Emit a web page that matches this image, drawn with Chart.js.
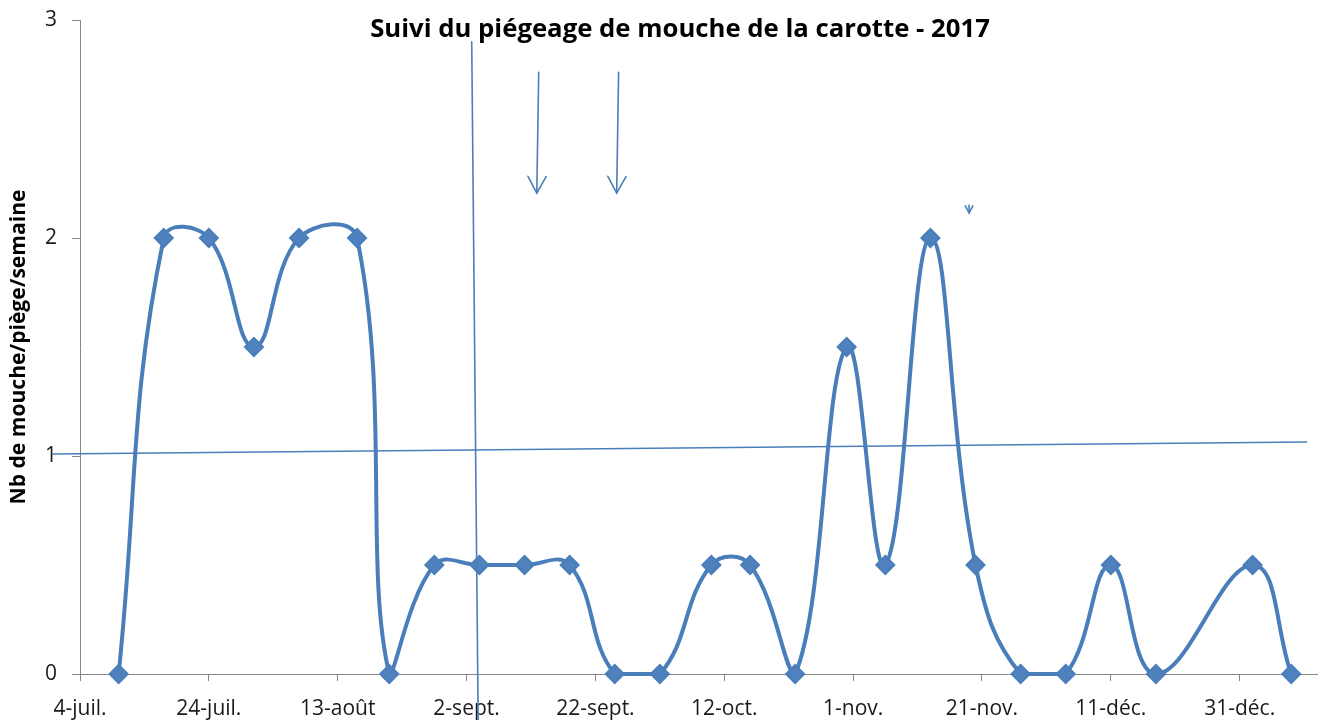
<!DOCTYPE html>
<html>
<head>
<meta charset="utf-8">
<script src="https://cdn.jsdelivr.net/npm/chart.js@4.4.0/dist/chart.umd.min.js"></script>
<style>
  html, body { margin: 0; padding: 0; background: #ffffff; }
  #wrap { width: 1319px; height: 720px; position: relative; }
</style>
</head>
<body>
<div id="wrap"><canvas id="c" width="1319" height="720"></canvas></div>
<script>
// ---------------- data ----------------
const chartTitle = 'Suivi du piégeage de mouche de la carotte - 2017';
const yAxisTitle = 'Nb de mouche/piège/semaine';
const axisStart = '2017-07-04';
const axisEnd = '2018-01-12';
const tickStepDays = 20;
const tickLabels = ['4-juil.', '24-juil.', '13-août', '2-sept.', '22-sept.', '12-oct.', '1-nov.', '21-nov.', '11-déc.', '31-déc.'];
const sampleDates = [
  '2017-07-10', '2017-07-17', '2017-07-24', '2017-07-31', '2017-08-07', '2017-08-16',
  '2017-08-21', '2017-08-28', '2017-09-04', '2017-09-11', '2017-09-18', '2017-09-25',
  '2017-10-02', '2017-10-10', '2017-10-16', '2017-10-23', '2017-10-31', '2017-11-06',
  '2017-11-13', '2017-11-20', '2017-11-27', '2017-12-04', '2017-12-11', '2017-12-18',
  '2018-01-02', '2018-01-08'
];
const fliesPerTrap = [
  0, 2, 2, 1.5, 2, 2,
  0, 0.5, 0.5, 0.5, 0.5, 0,
  0, 0.5, 0.5, 0,
  1.5, 0.5, 2, 0.5, 0, 0,
  0.5, 0, 0.5, 0
];
const yTickValues = [0, 1, 2, 3];
// hand-drawn shapes on the original sheet, in data units: [days since axisStart, value]
const sheetLines = [
  { from: [60.8, 2.90], to: [61.8, -0.21], head: 0 },
  { from: [-4.2, 1.009], to: [190.4, 1.064], head: 0 },
  { from: [71.2, 2.76], to: [70.9, 2.206], head: 19 },
  { from: [83.6, 2.76], to: [83.3, 2.206], head: 19 },
  { from: [138.0, 2.15], to: [138.0, 2.115], head: 8 }
];

// ---------------- helpers ----------------
const DAY = 86400000;
const dayOf = d => (Date.parse(d) - Date.parse(axisStart)) / DAY;
const points = sampleDates.map((d, i) => ({ x: dayOf(d), y: fliesPerTrap[i] }));

const FAMILY = '"Open Sans", "Noto Sans", sans-serif';
const measureCtx = document.createElement('canvas').getContext('2d');
function fitSize(text, weight, target) {
  measureCtx.font = weight + ' 100px ' + FAMILY;
  return 100 * target / measureCtx.measureText(text).width;
}
const titleSize = fitSize(chartTitle, 'bold', 620);
const yTitleSize = fitSize(yAxisTitle, 'bold', 315);

const LINE = '#4A7EBB';
const AXIS = '#868686';

const overlay = {
  id: 'overlay',
  afterDraw(chart) {
    const { ctx, scales: { x, y } } = chart;
    ctx.save();
    ctx.strokeStyle = LINE;
    ctx.lineWidth = 1.6;
    ctx.lineCap = 'round';
    for (const s of sheetLines) {
      const x1 = x.getPixelForValue(s.from[0]), y1 = y.getPixelForValue(s.from[1]);
      const x2 = x.getPixelForValue(s.to[0]), y2 = y.getPixelForValue(s.to[1]);
      ctx.beginPath();
      ctx.moveTo(x1, y1);
      ctx.lineTo(x2, y2);
      ctx.stroke();
      if (s.head) {
        const a = Math.atan2(y2 - y1, x2 - x1);
        const spread = Math.PI / 6.3;
        ctx.beginPath();
        ctx.moveTo(x2 - s.head * Math.cos(a - spread), y2 - s.head * Math.sin(a - spread));
        ctx.lineTo(x2, y2);
        ctx.lineTo(x2 - s.head * Math.cos(a + spread), y2 - s.head * Math.sin(a + spread));
        ctx.stroke();
      }
    }
    ctx.fillStyle = '#000';
    ctx.font = 'bold ' + titleSize.toFixed(2) + 'px ' + FAMILY;
    ctx.textAlign = 'center';
    ctx.textBaseline = 'alphabetic';
    ctx.fillText(chartTitle, 680, 37);
    ctx.restore();
  }
};

new Chart(document.getElementById('c'), {
  type: 'line',
  data: {
    datasets: [{
      data: points,
      borderColor: LINE,
      borderWidth: 4,
      tension: 0.42,
      pointStyle: 'rectRot',
      pointRadius: 9,
      pointBackgroundColor: '#4F81BD',
      pointBorderColor: LINE,
      pointBorderWidth: 2,
      clip: false,
      fill: false
    }]
  },
  options: {
    responsive: false,
    animation: false,
    events: [],
    layout: { autoPadding: false, padding: { top: 20, right: 2, bottom: 0, left: 0 } },
    plugins: { legend: { display: false }, title: { display: false }, tooltip: { enabled: false } },
    scales: {
      x: {
        type: 'linear',
        min: 0,
        max: dayOf(axisEnd),
        afterFit(s) { s.height = 46; s.paddingLeft = 0; s.paddingRight = 0; },
        border: { color: AXIS, width: 1 },
        grid: { drawOnChartArea: false, drawTicks: true, tickLength: 7, color: AXIS },
        ticks: {
          stepSize: tickStepDays,
          includeBounds: false,
          autoSkip: false,
          maxRotation: 0,
          padding: 15,
          color: '#1a1a1a',
          font: { family: FAMILY, size: 21 },
          callback: v => tickLabels[Math.round(v / tickStepDays)] ?? ''
        }
      },
      y: {
        min: 0,
        max: 3,
        afterFit(s) { s.width = 80; s.paddingTop = 0; s.paddingBottom = 0; },
        afterBuildTicks(s) { s.ticks = yTickValues.map(v => ({ value: v })); },
        border: { color: AXIS, width: 1 },
        grid: { drawOnChartArea: false, drawTicks: true, tickLength: 8, color: AXIS },
        ticks: {
          padding: 15,
          color: '#1a1a1a',
          font: { family: FAMILY, size: 21 }
        },
        title: {
          display: true,
          text: yAxisTitle,
          color: '#000',
          font: { family: FAMILY, size: yTitleSize, weight: 'bold' },
          padding: { top: 6, bottom: 0 }
        }
      }
    }
  },
  plugins: [overlay]
});
</script>
</body>
</html>
